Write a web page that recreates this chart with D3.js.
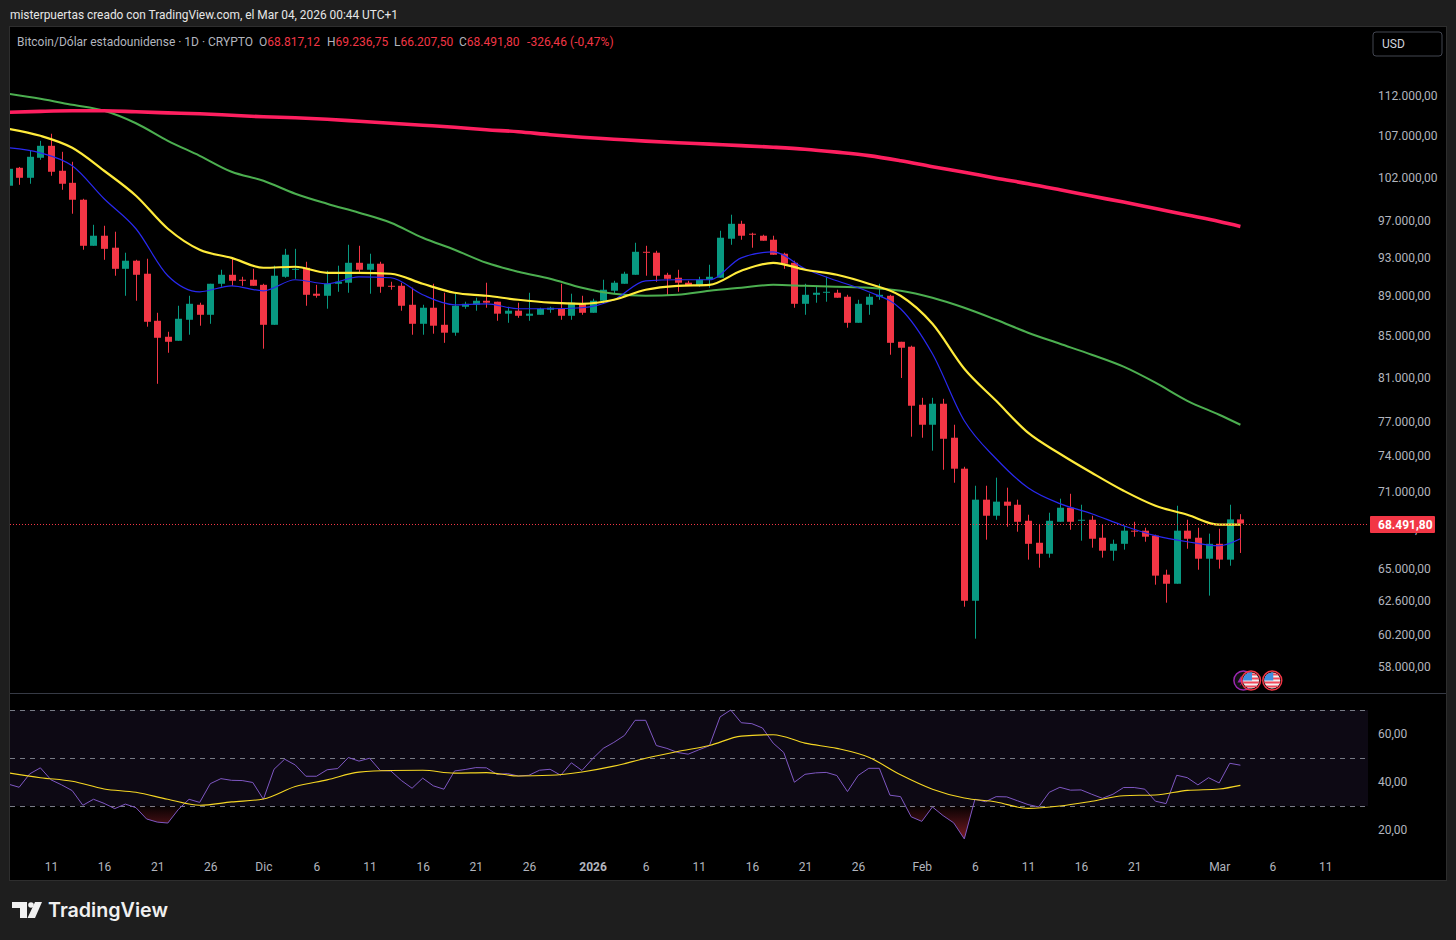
<!DOCTYPE html>
<html>
<head>
<meta charset="utf-8">
<script src="https://cdn.jsdelivr.net/npm/d3@7"></script>
<style>
html, body {margin:0; padding:0; background:#1e1e1e;}
svg {display:block;}
text {font-family:Roboto, sans-serif;}
</style>
</head>
<body>
<svg id="chart"></svg>
<script>
// daily candles, 7 Nov 2025 to 3 Mar 2026
var firstDay = "2025-11-07"
var opens = [
  101090,103200,102020,104400,105850,102850,101430,99470,94330,95430,94120,91860,92720,91340,86520,84940,84550,86620,88130,87120,90290,91230,90710,90710,
  90180,86120,91020,91860,91970,89260,89050,90290,90400,92500,91760,92400,90080,90080,88130,86220,87830,86120,85340,87930,88130,88540,88440,87230,87530,87020,87120,87630,87730,87020,88230,
  87320,88540,89570,90290,91230,93680,93580,91230,90920,90400,90080,90710,90920,95100,96750,95650,95430,94990,93470,92500,88230,89150,89360,89360,88950,86320,88130,88950,89050,84450,83970,
  78540,76750,78630,75610,72960,62660,70400,69110,70240,69990,68710,66990,66150,68630,69750,68710,68790,67380,66380,66910,67930,67930,67540,64570,63900,67930,67380,65770,66910,
  65700,68817.12
]
var highs = [
  103200,103300,105245,106460,107330,105120,103920,99580,96640,96530,95870,93580,92820,92930,87320,85430,88030,89050,88340,90290,91760,93030,91020,91860,
  90290,92190,94000,94000,92610,90180,91650,92190,94440,94330,93470,92610,90500,90400,89880,88130,90290,89360,89260,88440,88850,90400,88440,87930,88340,89360,87830,87930,90290,89260,89050,
  88750,90710,90600,91550,94660,94330,93790,91440,91760,90600,91020,92290,95980,97770,97090,95760,95540,95430,93580,92720,90290,90080,91020,89670,89150,88640,89260,90290,89150,84450,84070,
  79170,79170,79080,76750,73120,71540,71540,72210,71380,70400,69190,68400,69350,70480,70880,69990,69110,68400,67230,68320,68630,68160,67620,64940,69910,68790,68160,67700,68080,
  69990,69236.75
]
var lows = [
  101090,101200,101320,104160,102260,100620,97880,93900,94330,92820,91130,89050,88540,85930,80460,83390,84550,85140,86030,86220,89980,90080,90080,90080,
  83780,86120,90920,90810,88030,88850,87730,89460,89360,91440,89260,89360,89670,87530,85140,85140,85240,84350,85040,87730,87530,87830,86520,86320,86820,86520,87120,87320,86620,86620,87120,
  87320,88230,89260,90290,91230,91130,90500,89050,89460,90080,89980,89880,90920,94440,94990,94120,94880,93360,91860,87830,87120,88340,88440,88850,85830,86320,87120,88640,83200,81000,75700,
  75610,74490,72870,71790,62230,59980,67230,68790,68240,67850,65700,65090,65850,68630,68000,67150,66610,65850,65620,66460,67460,67070,63830,62520,63900,66530,64940,63030,65020,
  65240,66207.50
]
var closes = [
  103080,102020,104520,105850,102730,101320,99470,94330,95430,94000,91860,92720,91230,86420,84840,84450,86720,88230,87120,90290,91230,90600,90600,90080,
  86120,91130,93360,91860,89150,89050,90290,90500,92500,91760,92400,89980,89980,88030,86220,87830,86030,85340,88030,88230,88540,88340,87230,87530,87020,87230,87730,87830,87020,88340,87320,
  88540,89670,90400,91340,93680,93580,91130,90810,90400,90080,90710,91020,95210,96750,95430,95540,94880,93360,92400,88230,89150,89360,89460,88850,86320,88230,88950,89150,84350,83870,78450,
  76750,78630,75520,72960,62660,70400,69110,70240,69910,68630,66910,66150,68710,69750,68630,68790,67300,66380,66910,67930,67850,67460,64500,63900,67930,67300,65770,66910,65700,
  68818.26,68491.80
]

// indicator lines, read every third day plus the last bar
var lineIdx = d3.range(0, 115, 3).concat([116])
var emaBlue = [105610,105000,103440,99580,96200,91130,89460,90080,89560,90710,90290,91020,90920,89150,88130,88230,87730,87730,87830,88640,90600,90710,90710,93030,93680,91860,90600,89460,87730,83290,77100,73800,71380,70080,69270,68320,67540,67070,66760,67300]
var emaYellow = [107950,107080,105610,102850,99930,96200,93900,93030,91970,92080,91440,91440,91340,90290,89360,89050,88640,88340,88230,88640,89670,90080,90180,91650,92500,91760,91230,90290,89050,86220,81870,78900,76050,74230,72620,71130,69910,69190,68400,68400]
var emaGreen = [112390,111740,110970,110210,108640,106460,104640,102730,101670,100160,99010,97990,96870,95210,93900,92500,91550,90810,89880,89260,89050,89150,89570,89880,90180,90080,89980,89880,89570,88850,87830,86620,85340,84260,83200,82060,80560,78900,77640,76750]
var emaPink = [110020,110140,110210,110210,110080,109950,109830,109640,109450,109320,109140,108890,108640,108390,108140,107830,107580,107210,106900,106660,106420,106230,106050,105870,105680,105440,105080,104660,104040,103330,102670,101970,101330,100620,99890,99200,98460,97730,97000,96450]

// rsi per day and its moving average every third day
var rsiValues = [
  39.1,37.8,43.4,45.9,40.9,38.8,36.4,30.3,32.8,31.1,28.9,30.8,29.3,24.6,23.3,22.9,28.6,32.8,31.5,39.3,41.4,40.7,40.6,39.8,
  32.8,45.3,49.5,47.1,42.4,42.4,45.1,45.6,50.2,48.7,49.9,44.8,44.6,40.6,37.4,41.6,38.4,37.0,44.6,45.2,46.0,45.9,43.2,43.5,42.5,42.8,44.9,45.3,42.8,48.0,44.8,
  49.7,54.0,56.5,59.4,65.7,65.7,55.2,54.0,52.3,51.6,53.4,55.1,67.1,70.0,64.7,64.3,62.5,56.2,52.3,39.9,43.2,43.8,44.0,42.7,36.0,42.7,45.7,45.7,34.5,33.9,25.5,
  23.6,29.6,26.0,23.0,16.3,32.8,31.8,33.9,33.8,32.2,30.6,29.6,35.7,37.8,36.6,36.7,34.9,33.2,34.9,37.7,37.7,37.0,32.0,31.0,42.8,41.8,38.8,41.8,39.6,
  47.8,47.0
]
var rsiMa = [43.8,41.8,40.3,37.1,35.7,32.8,30.3,31.7,32.9,38.1,40.9,44.1,44.8,44.9,43.7,43.9,42.5,42.8,44.2,46.6,49.9,52.7,55.2,59.1,59.7,56.2,54.0,50.3,43.0,37.0,33.3,31.7,29.0,30.0,32.0,34.3,34.6,36.5,37.1,38.6]

var priceTicks = [112000,107000,102000,97000,93000,89000,85000,81000,77000,74000,71000,68000,65000,62600,60200,58000]
var rsiTicks = [60,40,20]
var rsiLevels = [70,50,30]
var timeTicks = ["2025-11-11","2025-11-16","2025-11-21","2025-11-26","2025-12-01","2025-12-06","2025-12-11","2025-12-16","2025-12-21","2025-12-26","2026-01-01","2026-01-06","2026-01-11","2026-01-16","2026-01-21","2026-01-26","2026-02-01","2026-02-06","2026-02-11","2026-02-16","2026-02-21","2026-03-01","2026-03-06","2026-03-11"]
var monthNames = {1:"2026", 2:"Feb", 3:"Mar", 12:"Dic"}
var lastPrice = 68491.80
var flagDays = ["2026-03-04","2026-03-06"]
var sparkDay = "2026-03-03"

var red = "#f23645", green = "#089981"
var screen = {width:1456, height:940}
var pane = {left:10, right:1368, top:27, bottom:880, split:693}

var parseDay = d3.utcParse("%Y-%m-%d")
var start = parseDay(firstDay)
var days = opens.map(function(o, i){return d3.utcDay.offset(start, i)})
var candles = days.map(function(d, i){
  return {day:d, o:opens[i], h:highs[i], l:lows[i], c:closes[i]}
})

var es = d3.formatLocale({decimal:",", thousands:".", grouping:[3], currency:["",""], minus:"-"})
var fmt = es.format(",.2f")

var xScale = d3.scaleUtc()
  .domain([parseDay("2025-11-11"), parseDay("2026-03-03")])
  .range([51, 1240.4])
var yScale = d3.scaleLog().domain([58000, 112000]).range([667.8, 96.8])
var rsiScale = d3.scaleLinear().domain([20, 60]).range([830, 734])

var svg = d3.select("#chart").attr("width", screen.width).attr("height", screen.height)
var defs = svg.append("defs")
defs.append("clipPath").attr("id", "plot").append("rect")
  .attr("x", pane.left).attr("y", pane.top)
  .attr("width", pane.right - pane.left).attr("height", pane.bottom - pane.top)
var grad = defs.append("linearGradient").attr("id", "oversold")
  .attr("gradientUnits", "userSpaceOnUse")
  .attr("x1", 0).attr("x2", 0).attr("y1", rsiScale(30)).attr("y2", rsiScale(16))
grad.append("stop").attr("offset", 0).attr("stop-color", red).attr("stop-opacity", 0.03)
grad.append("stop").attr("offset", 1).attr("stop-color", red).attr("stop-opacity", 0.5)
defs.append("clipPath").attr("id", "below30").append("rect")
  .attr("x", pane.left).attr("y", rsiScale(30))
  .attr("width", pane.right - pane.left).attr("height", 60)

// page and pane frames
svg.append("rect").attr("width", screen.width).attr("height", screen.height).attr("fill", "#1e1e1e")
svg.append("rect").attr("x", 9.5).attr("y", 26.5).attr("width", 1437).attr("height", 854)
  .attr("fill", "#000").attr("stroke", "#2e2e2e")
svg.append("line").attr("x1", 10).attr("x2", 1446).attr("y1", pane.split + 0.5).attr("y2", pane.split + 0.5)
  .attr("stroke", "#363a45")

// header and legend
svg.append("text").attr("x", 10).attr("y", 19).attr("fill", "#e6e6e6").attr("font-size", 11.9)
  .text("misterpuertas creado con TradingView.com, el Mar 04, 2026 00:44 UTC+1")

var legend = svg.append("text").attr("x", 17).attr("y", 46).attr("font-size", 12).attr("fill", "#b2b5be")
legend.append("tspan").text("Bitcoin/Dólar estadounidense · 1D · CRYPTO")
var ohlcLegend = [["O", opens[116], 259], ["H", highs[116], 327], ["L", lows[116], 394], ["C", closes[116], 459]]
ohlcLegend.forEach(function(e){
  legend.append("tspan").attr("x", e[2]).text(e[0])
  legend.append("tspan").attr("fill", red).text(fmt(e[1]))
})
legend.append("tspan").attr("x", 527).attr("fill", red).attr("letter-spacing", 0.08)
  .text(fmt(closes[116] - closes[115]) + " (-0,47%)")

// usd box
svg.append("rect").attr("x", 1373).attr("y", 32).attr("width", 69).attr("height", 24).attr("rx", 3)
  .attr("fill", "#000").attr("stroke", "#434651")
svg.append("text").attr("x", 1382).attr("y", 48).attr("font-size", 12).attr("fill", "#d1d4dc").text("USD")

// candles
var plot = svg.append("g").attr("clip-path", "url(#plot)")
var barW = 7
var bars = plot.selectAll("g.candle").data(candles).enter().append("g").attr("class", "candle")
bars.append("line")
  .attr("x1", function(d){return Math.round(xScale(d.day)) + 0.5})
  .attr("x2", function(d){return Math.round(xScale(d.day)) + 0.5})
  .attr("y1", function(d){return yScale(d.h)})
  .attr("y2", function(d){return yScale(d.l)})
  .attr("stroke", function(d){return d.c >= d.o ? green : red})
bars.append("rect")
  .attr("x", function(d){return Math.round(xScale(d.day)) + 0.5 - barW / 2})
  .attr("width", barW)
  .attr("y", function(d){return yScale(Math.max(d.o, d.c))})
  .attr("height", function(d){return Math.max(1, Math.abs(yScale(d.o) - yScale(d.c)))})
  .attr("fill", function(d){return d.c >= d.o ? green : red})

// moving averages
var priceLine = d3.line()
  .x(function(p){return xScale(days[p.i])})
  .y(function(p){return yScale(p.v)})
  .curve(d3.curveMonotoneX)
var series = [
  {values:emaGreen, color:"#4caf50", width:2},
  {values:emaBlue, color:"#2929f0", width:1.2},
  {values:emaYellow, color:"#ffeb3b", width:2.2},
  {values:emaPink, color:"#ff1f60", width:3.6}
]
series.forEach(function(s){
  var pts = s.values.map(function(v, k){return {i:lineIdx[k], v:v}})
  plot.append("path").attr("d", priceLine(pts))
    .attr("fill", "none").attr("stroke", s.color).attr("stroke-width", s.width)
})

// last price line, snapped to a pixel row so the dots stay red
var lastY = Math.round(yScale(lastPrice)) + 0.5
plot.append("line").attr("x1", pane.left).attr("x2", pane.right)
  .attr("y1", lastY).attr("y2", lastY)
  .attr("stroke", red).attr("stroke-dasharray", "1 2")

// price axis
var priceAxis = d3.axisRight(yScale).tickValues(priceTicks).tickFormat(fmt).tickSize(0).tickPadding(0)
var gPrice = svg.append("g").attr("transform", "translate(1378,-0.7)").call(priceAxis)
gPrice.select(".domain").remove()
gPrice.selectAll("text").attr("fill", "#b2b5be").attr("font-size", 12).attr("font-family", "Roboto, sans-serif")

svg.append("rect").attr("x", 1370).attr("y", lastY - 8.5).attr("width", 65).attr("height", 17)
  .attr("fill", red).attr("rx", 1)
svg.append("text").attr("x", 1378).attr("y", lastY + 4.5).attr("font-size", 12)
  .attr("font-weight", 700).attr("fill", "#fff").text(fmt(lastPrice))

// event markers
var marks = svg.append("g")
var markY = 680.5
marks.append("circle").attr("cx", xScale(parseDay(sparkDay)) + 3).attr("cy", markY).attr("r", 9.5)
  .attr("fill", "#111").attr("stroke", "#9c27b0").attr("stroke-width", 1.5)
marks.append("path")
  .attr("d", "M-1,-5 L-5,2 L-1,2 L-3,6 L3,-1 L-1,-1 Z")
  .attr("transform", "translate(" + (xScale(parseDay(sparkDay)) + 2) + "," + markY + ")")
  .attr("fill", "#9c27b0")
flagDays.forEach(function(day, k){
  var cx = xScale(parseDay(day))
  var g = marks.append("g").attr("transform", "translate(" + cx + "," + markY + ")")
  var cid = "flag" + k
  defs.append("clipPath").attr("id", cid).append("circle").attr("r", 8)
  var f = g.append("g").attr("clip-path", "url(#" + cid + ")")
  f.append("rect").attr("x", -9).attr("y", -9).attr("width", 18).attr("height", 18).attr("fill", "#f0f0f0")
  d3.range(-7, 9, 4).forEach(function(y){
    f.append("rect").attr("x", -9).attr("y", y).attr("width", 18).attr("height", 2).attr("fill", "#f2485a")
  })
  f.append("rect").attr("x", -9).attr("y", -9).attr("width", 10).attr("height", 9).attr("fill", "#3f8fe0")
  g.append("circle").attr("r", 9.5).attr("fill", "none").attr("stroke", red).attr("stroke-width", 1.5)
})

// rsi pane
var rsiPane = svg.append("g").attr("clip-path", "url(#plot)")
rsiPane.append("rect").attr("x", pane.left).attr("width", pane.right - pane.left)
  .attr("y", rsiScale(70)).attr("height", rsiScale(30) - rsiScale(70))
  .attr("fill", "#7e57c2").attr("fill-opacity", 0.1)
rsiPane.selectAll("line.level").data(rsiLevels).enter().append("line").attr("class", "level")
  .attr("x1", pane.left).attr("x2", pane.right)
  .attr("y1", function(d){return rsiScale(d) + 0.5})
  .attr("y2", function(d){return rsiScale(d) + 0.5})
  .attr("stroke", "#787b86").attr("stroke-dasharray", "5 5")
var rsiPts = rsiValues.map(function(v, i){return {day:days[i], v:v}})
rsiPane.append("path").attr("clip-path", "url(#below30)")
  .attr("d", d3.area()
    .x(function(p){return xScale(p.day)})
    .y0(rsiScale(30))
    .y1(function(p){return rsiScale(p.v)})(rsiPts))
  .attr("fill", "url(#oversold)")
rsiPane.append("path")
  .attr("d", d3.line().x(function(p){return xScale(p.day)}).y(function(p){return rsiScale(p.v)})(rsiPts))
  .attr("fill", "none").attr("stroke", "#7e57c2").attr("stroke-width", 1)
var maPts = rsiMa.map(function(v, k){return {day:days[lineIdx[k]], v:v}})
rsiPane.append("path")
  .attr("d", d3.line().x(function(p){return xScale(p.day)}).y(function(p){return rsiScale(p.v)}).curve(d3.curveMonotoneX)(maPts))
  .attr("fill", "none").attr("stroke", "#f5d623").attr("stroke-width", 1.1)

var rsiAxis = d3.axisRight(rsiScale).tickValues(rsiTicks).tickFormat(es.format(".2f")).tickSize(0).tickPadding(0)
var gRsi = svg.append("g").attr("transform", "translate(1378,-0.7)").call(rsiAxis)
gRsi.select(".domain").remove()
gRsi.selectAll("text").attr("fill", "#b2b5be").attr("font-size", 12).attr("font-family", "Roboto, sans-serif")

// time axis
var timeAxis = d3.axisBottom(xScale).tickValues(timeTicks.map(parseDay)).tickSize(0).tickPadding(0)
  .tickFormat(function(d){
    return d.getUTCDate() == 1 ? monthNames[d.getUTCMonth() + 1] : String(d.getUTCDate())
  })
var gTime = svg.append("g").attr("transform", "translate(0,862)").call(timeAxis)
gTime.select(".domain").remove()
gTime.selectAll("text").attr("fill", "#b2b5be").attr("font-size", 12).attr("font-family", "Roboto, sans-serif")
  .attr("font-weight", function(d){return d.getUTCMonth() == 0 && d.getUTCDate() == 1 ? 700 : 400})

// footer logo
var logo = svg.append("g").attr("fill", "#f0f0f0")
logo.append("path").attr("d", "M12,902 H27 V918 H20 V908 H12 Z")
logo.append("circle").attr("cx", 31).attr("cy", 905).attr("r", 2.8)
logo.append("path").attr("d", "M35,902 H42 L35,918 H27.5 Z")
svg.append("text").attr("x", 48).attr("y", 917).attr("font-size", 19.7).attr("font-weight", 600)
  .attr("fill", "#f0f0f0").style("font-family", "Inter, sans-serif").text("TradingView")
</script>
</body>
</html>
